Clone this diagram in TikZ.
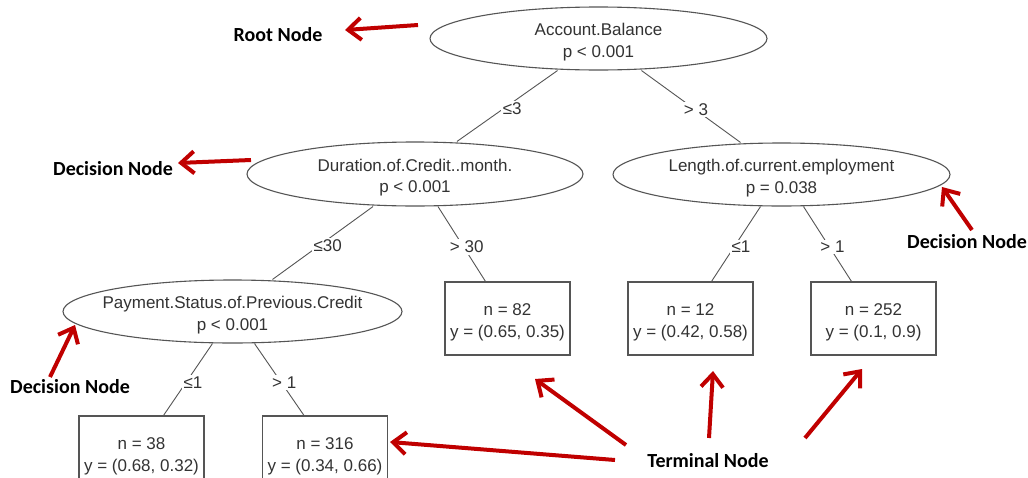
\documentclass[tikz,border=0pt]{standalone}
\usepackage{fontspec}
\setmainfont{Liberation Sans}
\newfontfamily\calib{Carlito}
\usetikzlibrary{shapes.geometric,arrows.meta,calc}
\definecolor{treeline}{HTML}{555555}
\definecolor{treetext}{HTML}{333333}
\definecolor{arrred}{HTML}{C00000}
\newcommand\tstrut{\rule{0pt}{20pt}}
\begin{document}
\begin{tikzpicture}[x=1pt,y=-1pt,
  every node/.style={font=\fontsize{17}{21.5}\selectfont, text=treetext},
  split/.style={ellipse, draw=treeline, line width=1.1pt, minimum width=337pt, minimum height=63pt, inner xsep=0pt, inner ysep=-4pt, align=center},
  leaf/.style={rectangle, draw=treeline, line width=1.1pt, minimum width=125pt, minimum height=73pt, inner sep=0pt, align=center},
  branch/.style={draw=treeline, line width=0.9pt},
  blabel/.style={midway, fill=white, inner sep=1.5pt, xshift=5pt, yshift=-3pt},
  callout/.style={font=\calib\bfseries\fontsize{20}{24}\selectfont, text=black},
  redarrow/.style={draw=arrred, line width=4pt, -{Straight Barb[length=13pt, width=22pt]}}
]
\path[use as bounding box, fill=white] (0,0) rectangle (1028,477);

% decision nodes
\node[split] (root) at (598.5,38.5) {\tstrut Account.Balance\\p < 0.001};
\node[split, minimum width=336pt, minimum height=64pt] (dur) at (415,174) {\tstrut Duration.of.Credit..month.\\p < 0.001};
\node[split] (len) at (781.5,174.5) {\tstrut Length.of.current.employment\\p = 0.038};
\node[split, minimum width=339pt, inner xsep=-12pt] (pay) at (232.5,311.5) {\tstrut Payment.Status.of.Previous.Credit\\p < 0.001};

% terminal nodes
\node[leaf] (n82) at (507.5,318.5) {\tstrut n = 82\\y = (0.65, 0.35)};
\node[leaf] (n12) at (690.5,318.5) {\tstrut n = 12\\y = (0.42, 0.58)};
\node[leaf] (n252) at (873.5,318.5) {\tstrut n = 252\\y = (0.1, 0.9)};
\node[leaf] (n38) at (141.5,452.5) {\tstrut n = 38\\y = (0.68, 0.32)};
\node[leaf] (n316) at (325,452.5) {\tstrut n = 316\\y = (0.34, 0.66)};

% branches
\draw[branch] ($(root.south)+(-41,0)$) -- node[blabel] {≤3} ($(dur.north)+(42,0)$);
\draw[branch] ($(root.south)+(43,0)$) -- node[blabel] {> 3} ($(len.north)+(-41,0)$);
\draw[branch] ($(dur.south)+(-42,0)$) -- node[blabel] {≤30} ($(pay.north)+(40,0)$);
\draw[branch] ($(dur.south)+(23,0)$) -- node[blabel] {> 30} ($(n82.north)+(-22,0)$);
\draw[branch] ($(len.south)+(-21,0)$) -- node[blabel] {≤1} ($(n12.north)+(21,0)$);
\draw[branch] ($(len.south)+(22,0)$) -- node[blabel] {> 1} ($(n252.north)+(-22,0)$);
\draw[branch] ($(pay.south)+(-20,0)$) -- node[blabel] {≤1} ($(n38.north)+(22,0)$);
\draw[branch] ($(pay.south)+(22,0)$) -- node[blabel] {> 1} ($(n316.north)+(-21,0)$);

% callout labels
\node[callout] (rootlbl) at (278,35) {Root Node};
\node[callout] (declbl1) at (113,169) {Decision Node};
\node[callout] (declbl2) at (967,242) {Decision Node};
\node[callout] (declbl3) at (70,387) {Decision Node};
\node[callout] (termlbl) at (708,461) {Terminal Node};

% red arrows
\coordinate (ra1) at (418,25);   \coordinate (rb1) at (345,30);
\coordinate (ra2) at (251,160);  \coordinate (rb2) at (178,163);
\coordinate (ra3) at (972,230);  \coordinate (rb3) at (942,187);
\coordinate (ra4) at (50,377);   \coordinate (rb4) at (75,325);
\coordinate (ra5) at (626,445);  \coordinate (rb5) at (535,379);
\coordinate (ra6) at (709,438);  \coordinate (rb6) at (713,371);
\coordinate (ra7) at (805,438);  \coordinate (rb7) at (862,369);
\coordinate (ra8) at (615,460);  \coordinate (rb8) at (390,442);
\foreach \i in {1,...,8} {\draw[redarrow] (ra\i) -- (rb\i);}
\end{tikzpicture}
\end{document}
